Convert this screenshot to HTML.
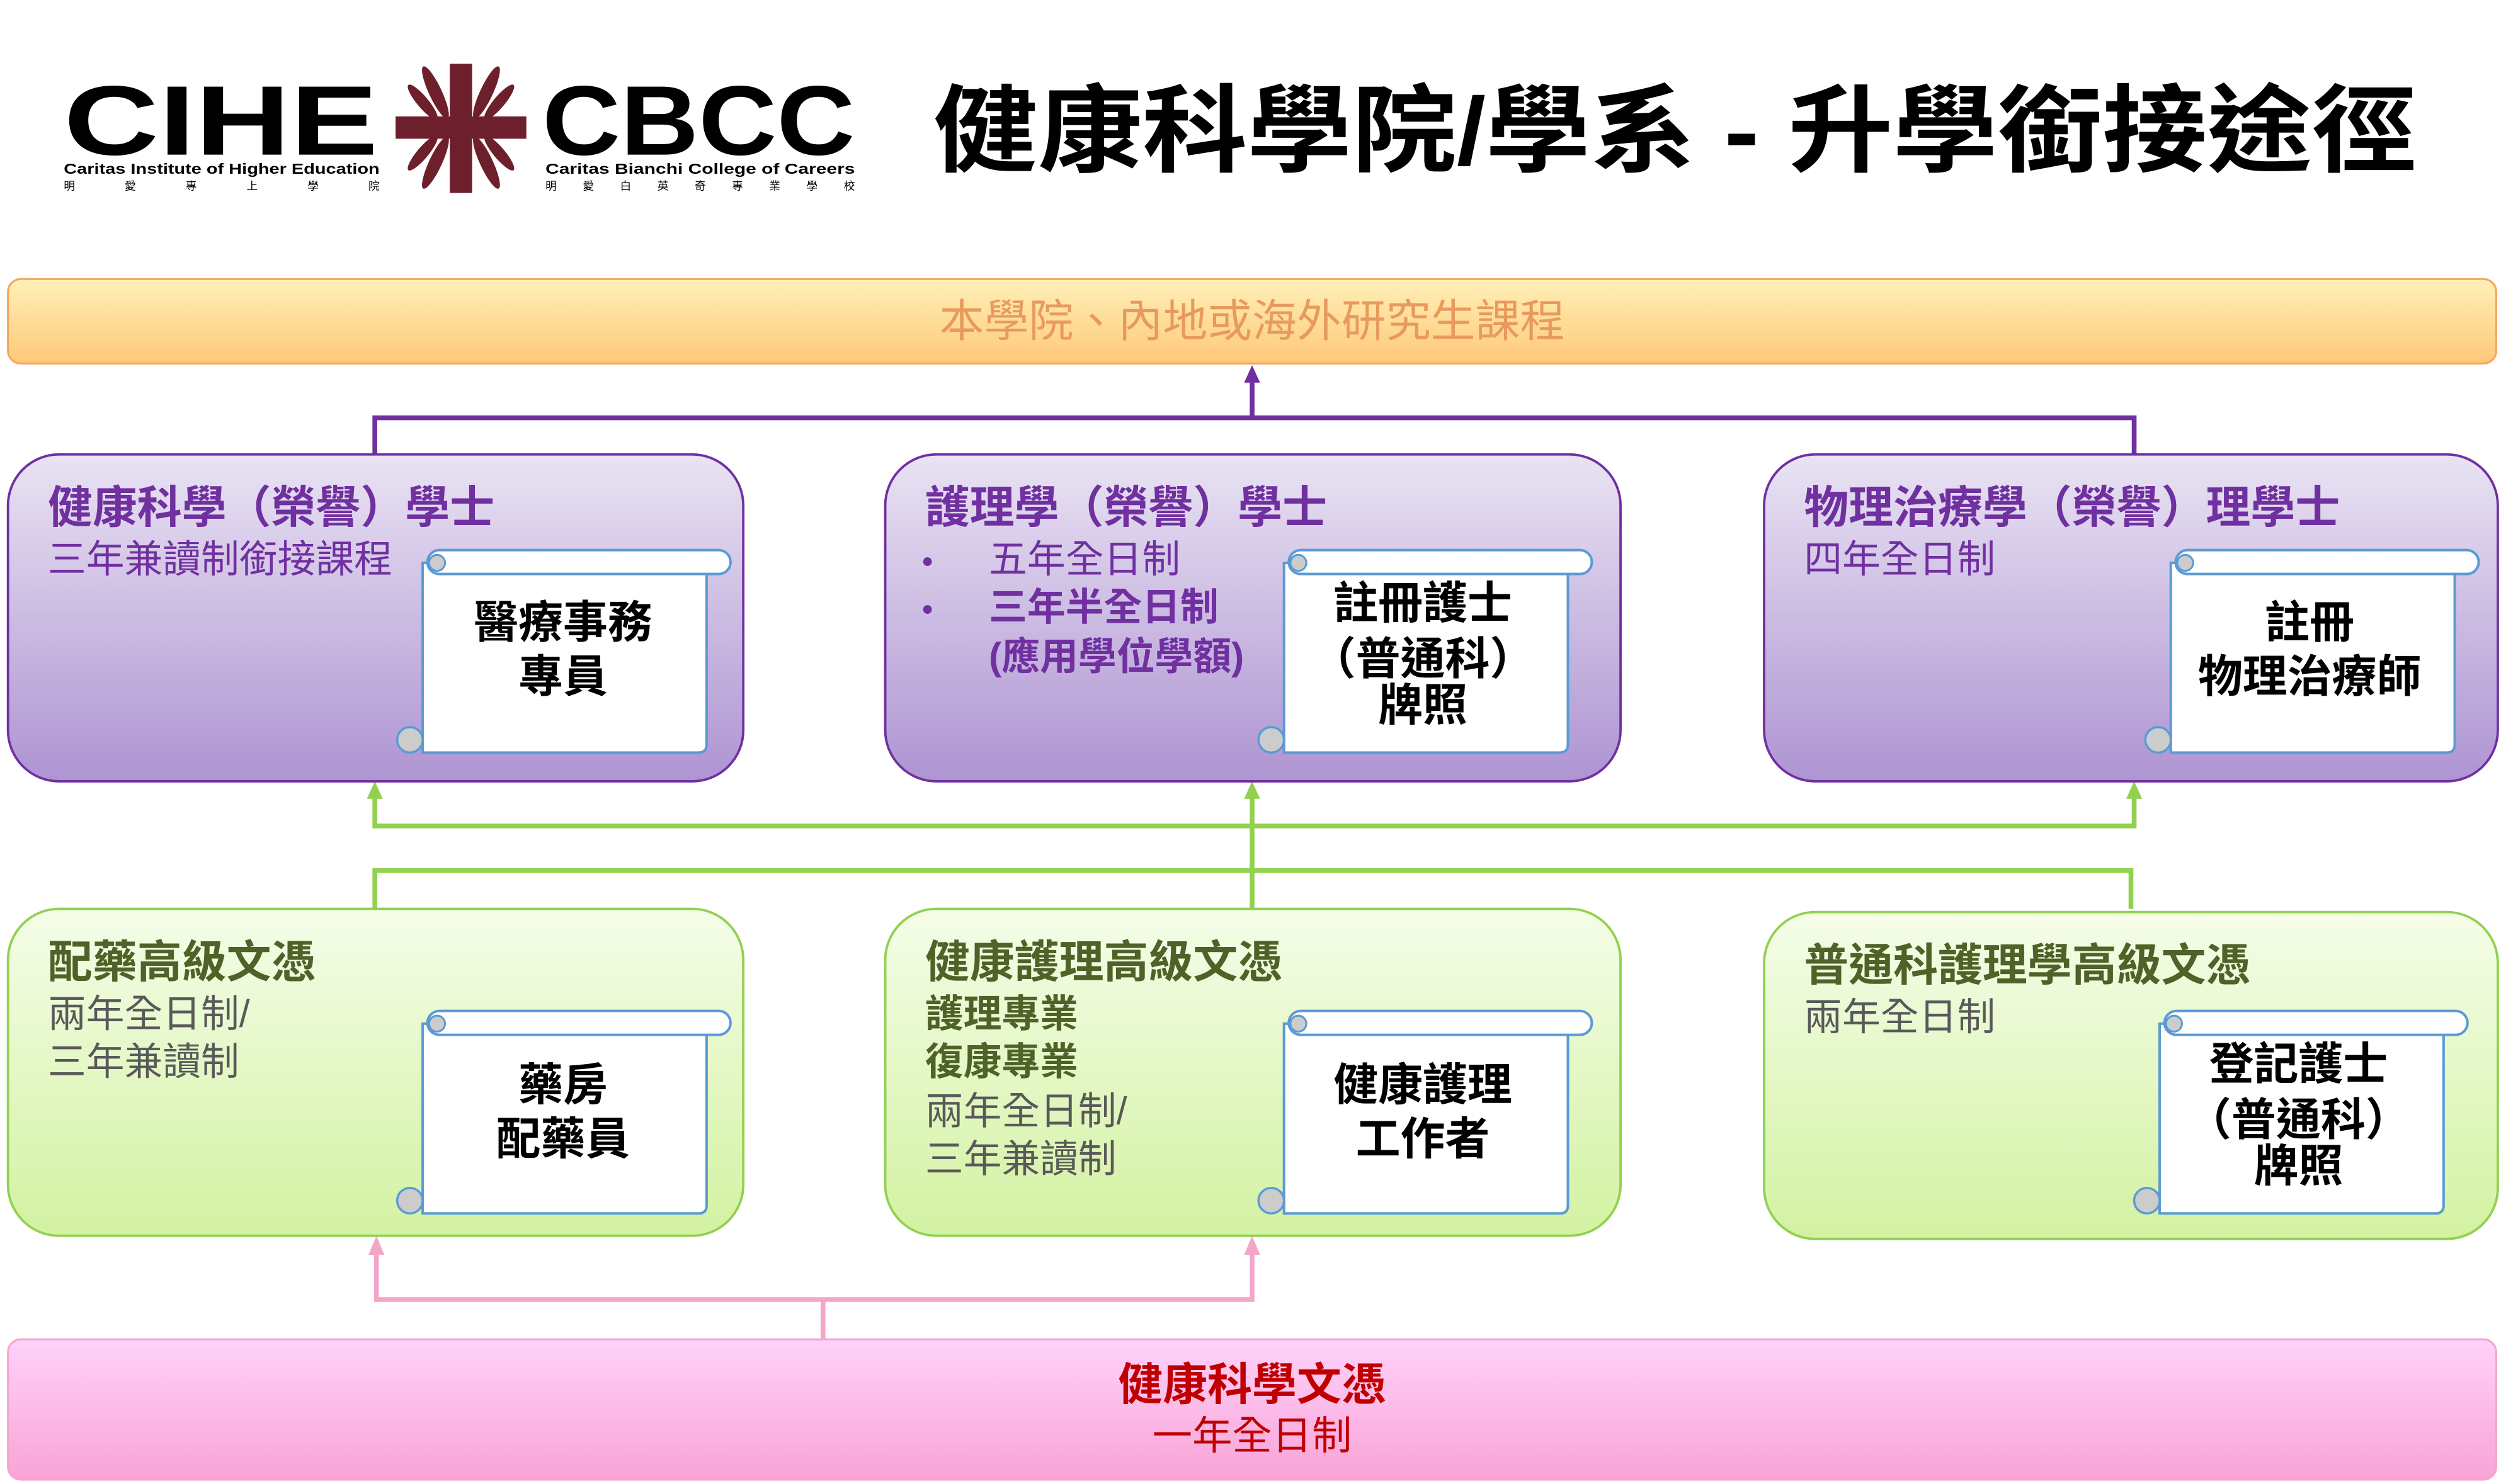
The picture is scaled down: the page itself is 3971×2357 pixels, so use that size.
<!DOCTYPE html>
<html><head><meta charset="utf-8"><style>
html,body{margin:0;padding:0;background:#fff;}
svg{display:block;}
text{font-family:"Liberation Sans","Noto Sans CJK TC",sans-serif;}
</style></head><body>
<svg width="3971" height="2357" viewBox="0 0 1568 930.7" preserveAspectRatio="none" xmlns="http://www.w3.org/2000/svg">
<defs>
<linearGradient id="gy" x1="0" y1="0" x2="0" y2="1"><stop offset="0" stop-color="#fff0b8"/><stop offset="1" stop-color="#ffc878"/></linearGradient>
<linearGradient id="gp" x1="0" y1="0" x2="0" y2="1"><stop offset="0" stop-color="#e9e3f3"/><stop offset="1" stop-color="#ae94d2"/></linearGradient>
<linearGradient id="gg" x1="0" y1="0" x2="0" y2="1"><stop offset="0" stop-color="#f5fde9"/><stop offset="1" stop-color="#d3f2a2"/></linearGradient>
<linearGradient id="gk" x1="0" y1="0" x2="0" y2="1"><stop offset="0" stop-color="#ffd2fb"/><stop offset="1" stop-color="#f9a3d6"/></linearGradient>
<g id="scroll">
  <path d="M2 8 L180 8 L180 122 Q180 127 175 127 L2 127 Z" fill="#fff" stroke="#5b9bd5" stroke-width="1.6"/>
  <rect x="5" y="0" width="190" height="15" rx="7.5" fill="#fff" stroke="#5b9bd5" stroke-width="1.6"/>
  <circle cx="11" cy="8" r="5" fill="#ccc" stroke="#5b9bd5" stroke-width="1.2"/>
  <circle cx="-6" cy="119" r="8" fill="#ccc" stroke="#5b9bd5" stroke-width="1.4"/>
</g>
</defs>

<!-- Logo -->
<text x="40" y="97" font-size="62" font-weight="bold" textLength="197" lengthAdjust="spacingAndGlyphs" fill="#000">CIHE</text>
<text x="340" y="97" font-size="62" font-weight="bold" textLength="196" lengthAdjust="spacingAndGlyphs" fill="#000">CBCC</text>
<text x="40" y="109" font-size="9" font-weight="bold" textLength="198" lengthAdjust="spacingAndGlyphs" fill="#000">Caritas Institute of Higher Education</text>
<text x="342" y="109" font-size="9" font-weight="bold" textLength="194" lengthAdjust="spacingAndGlyphs" fill="#000">Caritas Bianchi College of Careers</text>
<text x="40" y="119" font-size="7" textLength="198" fill="#000">明　　　愛　　　專　　　上　　　學　　　院</text>
<text x="342" y="119" font-size="7" textLength="194" fill="#000">明　愛　白　英　奇　專　業　學　校</text>
<g fill="#6e1f2c">
<rect x="282" y="40" width="14" height="81"/>
<rect x="248" y="73" width="82" height="14"/>
<g transform="translate(289,80)">
<ellipse cx="-16" cy="-22" rx="4" ry="18" transform="rotate(-25 -16 -22)"/>
<ellipse cx="-24" cy="-16" rx="3.5" ry="14" transform="rotate(-40 -24 -16)"/>
<ellipse cx="16" cy="-22" rx="4" ry="18" transform="rotate(25 16 -22)"/>
<ellipse cx="24" cy="-16" rx="3.5" ry="14" transform="rotate(40 24 -16)"/>
<ellipse cx="-16" cy="22" rx="4" ry="18" transform="rotate(25 -16 22)"/>
<ellipse cx="-24" cy="16" rx="3.5" ry="14" transform="rotate(40 -24 16)"/>
<ellipse cx="16" cy="22" rx="4" ry="18" transform="rotate(-25 16 22)"/>
<ellipse cx="24" cy="16" rx="3.5" ry="14" transform="rotate(-40 24 16)"/>
</g>
</g>
<text x="585" y="103" font-size="60" font-weight="bold" textLength="930" lengthAdjust="spacingAndGlyphs" fill="#000">健康科學院/學系 - 升學銜接途徑</text>

<!-- top bar -->
<rect x="5" y="175" width="1560" height="53" rx="8" fill="url(#gy)" stroke="#f4a55a" stroke-width="1.2"/>
<text x="785" y="211" font-size="28" text-anchor="middle" fill="#e89a5c">本學院、內地或海外研究生課程</text>

<!-- purple connectors -->
<g stroke="#7030a0" stroke-width="3" fill="none">
<path d="M235 285 V262 H1338 V285"/>
<path d="M785 262 V238"/>
</g>
<path d="M780 240 L785 229 L790 240 Z" fill="#7030a0"/>

<!-- green connectors -->
<g stroke="#92d050" stroke-width="3" fill="none">
<path d="M235 500 V518 H1338 V500"/>
<path d="M785 500 V570"/>
<path d="M235 570 V546 H1336 V570"/>
</g>
<g fill="#92d050">
<path d="M230 501 L235 490 L240 501 Z"/>
<path d="M780 501 L785 490 L790 501 Z"/>
<path d="M1333 501 L1338 490 L1343 501 Z"/>
</g>

<!-- pink connectors -->
<g stroke="#f4a6c8" stroke-width="3" fill="none">
<path d="M236 786 V815 H785 V786"/>
<path d="M516 815 V840"/>
</g>
<g fill="#f4a6c8">
<path d="M231 787 L236 775 L241 787 Z"/>
<path d="M780 787 L785 775 L790 787 Z"/>
</g>

<!-- purple boxes -->
<g fill="url(#gp)" stroke="#7030a0" stroke-width="1.5">
<rect x="5" y="285" width="461" height="205" rx="32"/>
<rect x="555" y="285" width="461" height="205" rx="32"/>
<rect x="1106" y="285" width="460" height="205" rx="32"/>
</g>
<g fill="#7030a0">
<text x="30" y="328" font-size="28" font-weight="bold">健康科學（榮譽）學士</text>
<text x="30" y="359" font-size="24">三年兼讀制銜接課程</text>
<text x="580" y="328" font-size="28" font-weight="bold">護理學（榮譽）學士</text>
<text x="578" y="359" font-size="20">•</text>
<text x="620" y="359" font-size="24">五年全日制</text>
<text x="578" y="389" font-size="20">•</text>
<text x="620" y="389" font-size="24" font-weight="bold">三年半全日制</text>
<text x="620" y="420" font-size="24" font-weight="bold">(應用學位學額)</text>
<text x="1131" y="328" font-size="28" font-weight="bold">物理治療學（榮譽）理學士</text>
<text x="1131" y="359" font-size="24">四年全日制</text>
</g>

<!-- green boxes -->
<g fill="url(#gg)" stroke="#92d050" stroke-width="1.5">
<rect x="5" y="570" width="461" height="205" rx="32"/>
<rect x="555" y="570" width="461" height="205" rx="32"/>
<rect x="1106" y="572" width="460" height="205" rx="32"/>
</g>
<g fill="#4f6228">
<text x="30" y="613" font-size="28" font-weight="bold">配藥高級文憑</text>
<text x="580" y="613" font-size="28" font-weight="bold">健康護理高級文憑</text>
<text x="580" y="644" font-size="24" font-weight="bold">護理專業</text>
<text x="580" y="674" font-size="24" font-weight="bold">復康專業</text>
<text x="1131" y="615" font-size="28" font-weight="bold">普通科護理學高級文憑</text>
</g>
<g fill="#595959" font-size="24">
<text x="30" y="644">兩年全日制/</text>
<text x="30" y="674">三年兼讀制</text>
<text x="580" y="705">兩年全日制/</text>
<text x="580" y="735">三年兼讀制</text>
<text x="1131" y="646">兩年全日制</text>
</g>

<!-- scrolls -->
<use href="#scroll" x="263" y="345"/>
<use href="#scroll" x="803" y="345"/>
<use href="#scroll" x="1359" y="345"/>
<use href="#scroll" x="263" y="634"/>
<use href="#scroll" x="803" y="634"/>
<use href="#scroll" x="1352" y="634"/>
<g font-size="28" font-weight="bold" fill="#000" text-anchor="middle">
<text x="353" y="400">醫療事務</text>
<text x="353" y="434">專員</text>
<text x="892" y="388">註冊護士</text>
<text x="892" y="423">（普通科）</text>
<text x="892" y="452">牌照</text>
<text x="1448" y="400">註冊</text>
<text x="1448" y="434">物理治療師</text>
<text x="353" y="690">藥房</text>
<text x="353" y="724">配藥員</text>
<text x="892" y="690">健康護理</text>
<text x="892" y="724">工作者</text>
<text x="1441" y="677">登記護士</text>
<text x="1441" y="712">（普通科）</text>
<text x="1441" y="741">牌照</text>
</g>

<!-- pink bottom -->
<rect x="5" y="840" width="1560" height="88" rx="8" fill="url(#gk)" stroke="#f4a6c8" stroke-width="1.2"/>
<text x="785" y="878" font-size="28" font-weight="bold" text-anchor="middle" fill="#c00000">健康科學文憑</text>
<text x="785" y="909" font-size="25" text-anchor="middle" fill="#c00000">一年全日制</text>
</svg>
</body></html>
